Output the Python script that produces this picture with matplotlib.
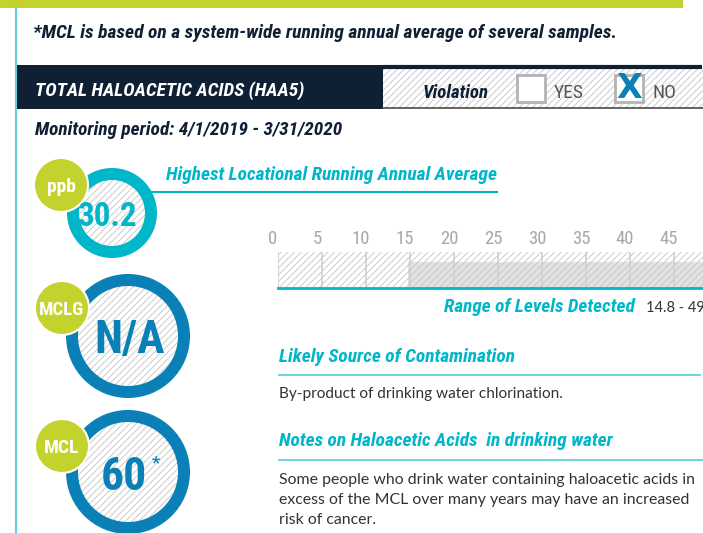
"""
Water quality report card: Total Haloacetic Acids (HAA5).
Run: python plot.py  -> out.png
"""

import matplotlib
matplotlib.use("Agg")  # headless
import matplotlib.pyplot as plt
from matplotlib import font_manager
from matplotlib.patches import Rectangle, Circle, Wedge
from matplotlib.transforms import ScaledTranslation

# ---------------------------------------------------------------------------
# Data
# ---------------------------------------------------------------------------
contaminant = "TOTAL HALOACETIC ACIDS (HAA5)"
period_start, period_end = "4/1/2019", "3/31/2020"
unit = "ppb"
highest_lraa = 30.2
mclg = "N/A"
mcl = 60
range_low, range_high = 14.8, 49.6
scale_ticks = [0, 5, 10, 15, 20, 25, 30, 35, 40, 45, 50]
violation = False
source_text = "By-product of drinking water chlorination."
notes_lines = [
    "Some people who drink water containing haloacetic acids in",
    "excess of the MCL over many years may have an increased",
    "risk of cancer.",
]

# ---------------------------------------------------------------------------
# Style
# ---------------------------------------------------------------------------
GREEN = "#c3d22c"
NAVY = "#0f2035"
CYAN = "#00b6c9"
BLUE = "#0a80b6"
LIGHT_CYAN = "#5fd0dc"
HATCH = "#c4c4c4"
BODY = "#333333"

# pick a condensed face if one is installed (the original uses a condensed sans)
installed = font_manager.fontManager.ttflist
names = {f.name for f in installed}
COND_KW = {"family": ["DejaVu Sans"]}
for cand in ["Liberation Sans Narrow", "Roboto Condensed", "Open Sans Condensed"]:
    if cand in names:
        COND_KW = {"family": [cand, "DejaVu Sans"]}
        break
else:
    if any(f.name == "DejaVu Sans" and f.stretch == "condensed" for f in installed):
        COND_KW = {"family": ["DejaVu Sans"], "stretch": "condensed"}

BODY_FONT = ["Lato", "DejaVu Sans"]
plt.rcParams["font.family"] = COND_KW["family"]
if "stretch" in COND_KW:
    plt.rcParams["font.stretch"] = COND_KW["stretch"]
plt.rcParams["hatch.linewidth"] = 0.6

fig = plt.figure(figsize=(7.03, 5.33), dpi=100)
ax = fig.add_axes([0, 0, 1, 1])
ax.set_xlim(0, 703)
ax.set_ylim(533, 0)
ax.axis("off")
renderer = fig.canvas.get_renderer()


def fit_text(x, y, s, width, **kw):
    # draw text then rescale it so it spans `width` pixels
    kw.setdefault("va", "baseline")
    t = ax.text(x, y, s, **kw)
    w = t.get_window_extent(renderer).width
    t.set_fontsize(t.get_fontsize() * width / w)
    return t


# ---------------------------------------------------------------------------
# Frame and header
# ---------------------------------------------------------------------------
ax.add_patch(Rectangle((0, 0), 683, 8, color=GREEN, lw=0))
ax.plot([15.5, 15.5], [8, 533], color=LIGHT_CYAN, lw=1.5)

fit_text(33, 38, "*MCL is based on a system-wide running annual average of several samples.",
         582, color=NAVY, weight="bold", style="italic")

ax.add_patch(Rectangle((15, 65), 368, 44, color=NAVY, lw=0))
fit_text(35, 96, contaminant, 269, color="white", style="italic", weight="bold")

ax.add_patch(Rectangle((383, 67), 320, 41, facecolor="white", edgecolor=HATCH,
                       hatch="/////", lw=0))
ax.plot([383, 702], [66.5, 66.5], color=NAVY, lw=3, solid_capstyle="butt")
ax.plot([383, 703], [108, 108], color="#4a4a4a", lw=1.2)
fit_text(423, 98, "Violation", 66, color=NAVY, weight="bold", style="italic")

for bx, label, checked in [(517, "YES", violation), (615, "NO", not violation)]:
    ax.add_patch(Rectangle((bx, 75), 28, 27, facecolor="white",
                           edgecolor="#b3b3b3", lw=2))
    if checked:
        ax.text(bx + 14, 89, "X", color=BLUE, weight="bold", fontsize=24,
                ha="center", va="center", family=["DejaVu Sans"], stretch="normal")
    ax.text(bx + 37, 98, label, color="#555555", fontsize=14, va="baseline")

fit_text(35, 135, f"Monitoring period: {period_start} - {period_end}", 306,
         color=NAVY, weight="bold", style="italic")

# ---------------------------------------------------------------------------
# Circles: value badges
# ---------------------------------------------------------------------------
badges = [
    ((112, 213), 45, CYAN, f"{highest_lraa}", 60, unit, (61, 185), 29),
    ((128, 336), 62, BLUE, mclg, 70, "MCLG", (62, 308), 45),
    ((128, 472), 62, BLUE, f"{mcl}", 46, "MCL", (62, 446), 35),
]
for (cx, cy), r, col, val, vw, lab, (lx, ly), lw_ in badges:
    ax.add_patch(Circle((cx, cy), r - 11, facecolor="white", edgecolor=HATCH,
                        hatch="/////", lw=0))
    ax.add_patch(Wedge((cx, cy), r, 0, 360, width=12, color=col, lw=0))
    fit_text(cx - 4 if val != mclg else cx + 2, cy, val, vw, color=col,
             weight="bold", ha="center", va="center_baseline")
    ax.add_patch(Circle((lx, ly), 27, facecolor=GREEN, edgecolor="white", lw=1.5))
    fit_text(lx, ly, lab, lw_, color="white", weight="bold", ha="center",
             va="center_baseline")
ax.text(156, 468, "*", color=BLUE, fontsize=14, ha="center", va="baseline")

# ---------------------------------------------------------------------------
# Highest LRAA heading
# ---------------------------------------------------------------------------
fit_text(166, 180, "Highest Locational Running Annual Average", 331,
         color=CYAN, weight="bold", style="italic")
ax.plot([150, 497], [191.5, 191.5], color=CYAN, lw=1.5)

# ---------------------------------------------------------------------------
# Range of levels bar (0-50 ppb scale)
# ---------------------------------------------------------------------------
px_per_unit = 8.8
bar = fig.add_axes([278 / 703, (533 - 288) / 533,
                    px_per_unit * 50 / 703, 36 / 533])
bar.set_xlim(0, 50)
bar.set_ylim(0, 1)
bar.axvspan(range_low, range_high, ymin=0, ymax=26 / 36, color="#e2e2e2",
            lw=0, zorder=0)
bar.add_patch(Rectangle((0, 0), 1, 1, transform=bar.transAxes,
                        facecolor="none", edgecolor=HATCH, hatch="/////",
                        lw=0, zorder=0.5))
bar.set_xticks(scale_ticks)
bar.set_yticks([])
bar.grid(axis="x", color="#cfcfcf", lw=1.2)
bar.tick_params(top=False, labeltop=True, bottom=False, labelbottom=False,
                length=0, pad=3, labelsize=13.5, labelcolor="#a8a8a8")
# scale numbers sit a little left of their gridlines in the original
shift = ScaledTranslation(-5 / 100, 0, fig.dpi_scale_trans)
for lbl in bar.get_xticklabels():
    lbl.set_transform(lbl.get_transform() + shift)
for side in ["top", "left", "right"]:
    bar.spines[side].set_visible(False)
bar.spines["bottom"].set_color(CYAN)
bar.spines["bottom"].set_linewidth(2)

fit_text(635, 312, "Range of Levels Detected", 191, color=CYAN,
         weight="bold", style="italic", ha="right")
ax.text(646, 312, f"{range_low} - {range_high}", color=BODY, fontsize=10.5,
        family=BODY_FONT, va="baseline")

# ---------------------------------------------------------------------------
# Source and notes
# ---------------------------------------------------------------------------
fit_text(279, 362, "Likely Source of Contamination", 237, color=CYAN,
         weight="bold", style="italic")
ax.plot([279, 700], [374.5, 374.5], color=LIGHT_CYAN, lw=1.3)
fit_text(279, 398, source_text, 286, color=BODY, family=BODY_FONT,
         stretch="normal")

fit_text(279, 446, "Notes on Haloacetic Acids  in drinking water", 335,
         color=CYAN, weight="bold", style="italic")
ax.plot([279, 703], [459.5, 459.5], color=LIGHT_CYAN, lw=1.3)
first = fit_text(279, 484, notes_lines[0], 416, color=BODY, family=BODY_FONT,
                 stretch="normal")
for i, line in enumerate(notes_lines[1:], start=1):
    ax.text(279, 484 + 20 * i, line, color=BODY, family=BODY_FONT,
            stretch="normal", fontsize=first.get_fontsize(), va="baseline")

fig.savefig("out.png", dpi=100)
